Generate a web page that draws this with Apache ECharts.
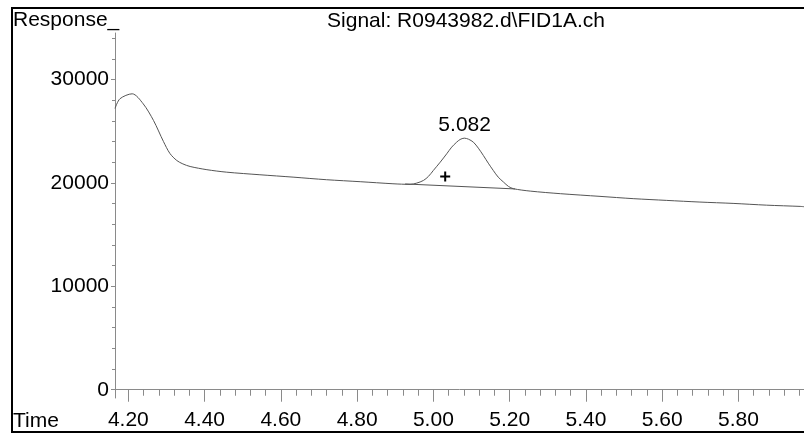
<!DOCTYPE html>
<html>
<head>
<meta charset="utf-8">
<script src="https://cdn.jsdelivr.net/npm/echarts@6/dist/echarts.min.js"></script>
<style>html,body{margin:0;padding:0;background:#fff;}#c{width:804px;height:434px;}</style>
</head>
<body>
<div id="c"></div>
<script>
// Signal trace (time in min, response)
var times = [4.165, 4.178, 4.210, 4.239, 4.266, 4.292, 4.309, 4.327, 4.343, 4.362, 4.406, 4.458, 4.545, 4.632, 4.720, 4.808, 4.894, 4.939, 4.956, 4.974, 4.987, 5.000, 5.018, 5.035, 5.048, 5.061, 5.070, 5.081, 5.092, 5.105, 5.118, 5.131, 5.144, 5.157, 5.170, 5.184, 5.197, 5.210, 5.254, 5.333, 5.437, 5.524, 5.612, 5.699, 5.786, 5.874, 5.962, 5.972];
var responses = [27200, 28140, 28620, 27650, 26040, 24010, 22850, 22170, 21840, 21590, 21280, 21040, 20790, 20560, 20310, 20120, 19920, 19860, 19980, 20240, 20630, 21210, 22010, 22820, 23460, 23940, 24200, 24330, 24230, 23940, 23360, 22660, 21910, 21210, 20560, 20080, 19660, 19440, 19210, 18960, 18700, 18480, 18310, 18150, 18020, 17850, 17730, 17700];
// Integration baseline under the peak
var baseTimes = [4.926, 5.214];
var baseResponses = [19900, 19420];
// Peak annotation
var peakTime = [5.082];
var peakResponse = [24330];
var peakLabel = ['5.082'];
// Cross marker
var crossTime = [5.031];
var crossResponse = [20630];
// Axis ticks
var xMajorTicks = [4.20, 4.40, 4.60, 4.80, 5.00, 5.20, 5.40, 5.60, 5.80];
var xMinorTicks = [4.24, 4.28, 4.32, 4.36, 4.44, 4.48, 4.52, 4.56, 4.64, 4.68, 4.72, 4.76, 4.84, 4.88, 4.92, 4.96, 5.04, 5.08, 5.12, 5.16, 5.24, 5.28, 5.32, 5.36, 5.44, 5.48, 5.52, 5.56, 5.64, 5.68, 5.72, 5.76, 5.84, 5.88, 5.92, 5.96];
var yMajorTicks = [0, 10000, 20000, 30000];
var yMinorTicks = [2000, 4000, 6000, 8000, 12000, 14000, 16000, 18000, 22000, 24000, 26000, 28000, 32000, 34000];
var titleText = 'Signal: R0943982.d\\FID1A.ch';
var yName = 'Response_';
var xName = 'Time';

var FONT = '"Liberation Sans", Arial, sans-serif';
var FS = 21;
var AXIS_COLOR = '#8a8a8a';
var LINE_COLOR = '#555555';

function pairs(a, b) { return a.map(function (v, i) { return [v, b[i]]; }); }

var chart = echarts.init(document.getElementById('c'), null, { renderer: 'canvas' });
chart.setOption({
  animation: false,
  backgroundColor: '#ffffff',
  grid: { left: 115, right: 0, top: 33, bottom: 36 },
  xAxis: [{
    type: 'value', min: 4.165, max: 5.972,
    axisLine: { show: true, lineStyle: { color: AXIS_COLOR, width: 1 } },
    axisTick: { show: true, customValues: xMajorTicks, length: 12, lineStyle: { color: AXIS_COLOR } },
    axisLabel: { show: true, customValues: xMajorTicks, formatter: function (v) { return v.toFixed(2); },
      color: '#000', fontSize: FS, fontFamily: FONT, margin: 12 },
    splitLine: { show: false }
  }, {
    type: 'value', min: 4.165, max: 5.972, position: 'bottom',
    axisLine: { show: false },
    axisTick: { show: true, customValues: xMinorTicks, length: 6, lineStyle: { color: AXIS_COLOR } },
    axisLabel: { show: false },
    splitLine: { show: false }
  }],
  yAxis: [{
    type: 'value', min: -800, max: 34500,
    axisLine: { show: true, lineStyle: { color: AXIS_COLOR, width: 1 } },
    axisTick: { show: true, customValues: yMajorTicks, length: 4, lineStyle: { color: AXIS_COLOR } },
    axisLabel: { show: true, customValues: yMajorTicks, formatter: function (v) { return String(v); },
      color: '#000', fontSize: FS, fontFamily: FONT, margin: 6 },
    splitLine: { show: false }
  }, {
    type: 'value', min: -800, max: 34500, position: 'left',
    axisLine: { show: false },
    axisTick: { show: true, customValues: yMinorTicks, length: 3, lineStyle: { color: AXIS_COLOR } },
    axisLabel: { show: false },
    splitLine: { show: false }
  }],
  series: [{
    type: 'line', xAxisIndex: 0, yAxisIndex: 0,
    data: pairs(times, responses),
    showSymbol: false, smooth: 0.3,
    lineStyle: { color: LINE_COLOR, width: 1 }
  }, {
    type: 'line', xAxisIndex: 0, yAxisIndex: 0,
    data: pairs(baseTimes, baseResponses),
    showSymbol: false,
    lineStyle: { color: LINE_COLOR, width: 1 }
  }, {
    type: 'scatter', xAxisIndex: 0, yAxisIndex: 0,
    data: pairs(peakTime, peakResponse),
    symbolSize: 0,
    itemStyle: { opacity: 1, color: '#000' },
    label: { show: true, position: 'top', distance: 2, formatter: function (p) { return peakLabel[p.dataIndex]; },
      color: '#000', fontSize: FS, fontFamily: FONT }
  }, {
    type: 'scatter', xAxisIndex: 0, yAxisIndex: 0,
    data: pairs(crossTime, crossResponse),
    symbol: 'path://M4,0h2v4h4v2h-4v4h-2v-4h-4v-2h4z',
    symbolSize: 10,
    itemStyle: { color: '#000', opacity: 1 }
  }],
  graphic: [{
    type: 'rect', shape: { x: 12, y: 8, width: 820, height: 424 },
    style: { fill: 'none', stroke: '#000', lineWidth: 2 }, silent: true
  }, {
    type: 'text', x: 13, y: 20,
    style: { text: yName, fontSize: FS, fontFamily: FONT, fill: '#000', align: 'left', verticalAlign: 'middle' }
  }, {
    type: 'text', x: 466, y: 21,
    style: { text: titleText, fontSize: FS, fontFamily: FONT, fill: '#000', align: 'center', verticalAlign: 'middle' }
  }, {
    type: 'text', x: 13, y: 421,
    style: { text: xName, fontSize: FS, fontFamily: FONT, fill: '#000', align: 'left', verticalAlign: 'middle' }
  }]
});
</script>
</body>
</html>
